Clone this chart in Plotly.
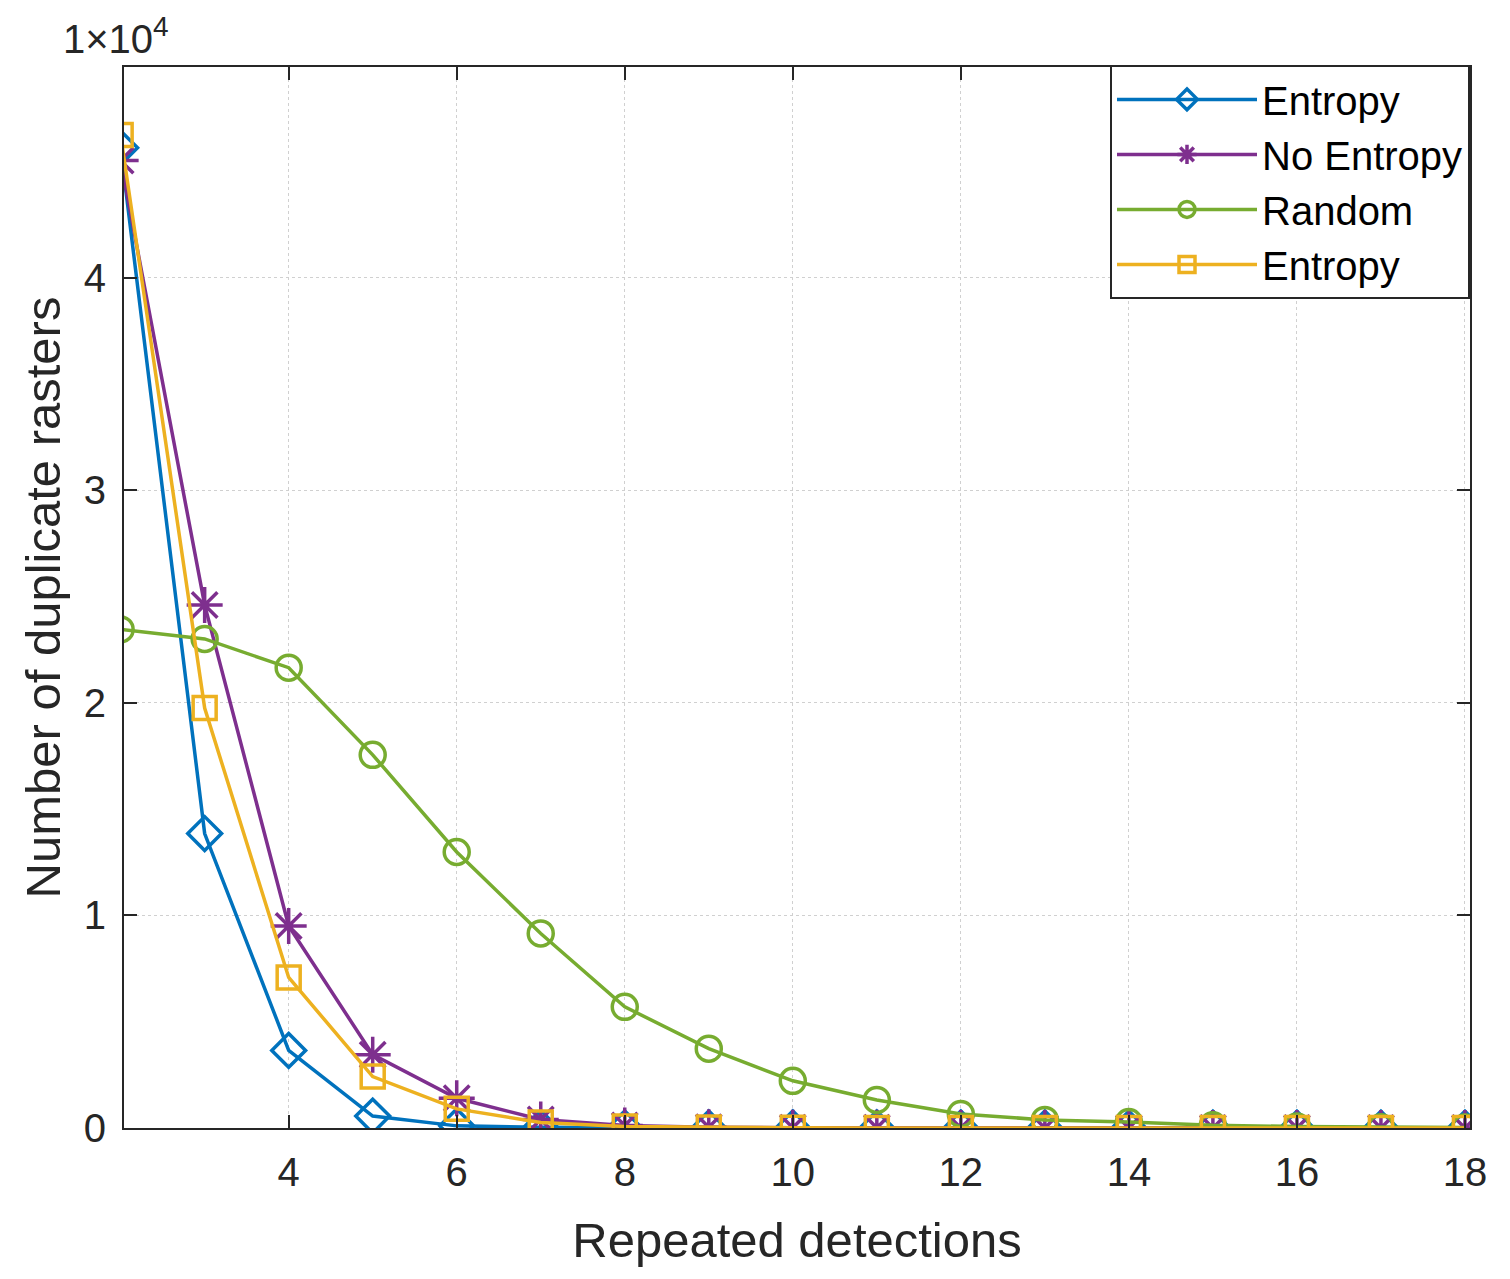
import plotly.graph_objects as go

# repeated detections (x axis)
detections = list(range(2, 19))

# number of duplicate rasters
entropy = [46100, 13850, 3650, 560, 100, 30, 10, 5, 3, 2, 1, 1, 0, 0, 0, 0, 0]
no_entropy = [45500, 24600, 9500, 3450, 1400, 400, 120, 40, 15, 8, 4, 2, 1, 1, 0, 0, 0]
random_sel = [23450, 23000, 21650, 17550, 12980, 9150, 5700, 3730, 2220, 1320, 660, 380, 280, 130, 70, 30, 20]
entropy_sq = [46700, 19750, 7080, 2420, 900, 260, 70, 20, 8, 4, 2, 1, 1, 0, 0, 0, 0]

y_ticks = [0, 10000, 20000, 30000, 40000]
y_ticktext = ["0", "1", "2", "3", "4"]
x_ticks = [4, 6, 8, 10, 12, 14, 16, 18]

series = [
    ("Entropy", entropy, "#0072BD", "diamond-open", 26),
    ("No Entropy", no_entropy, "#7E2F8E", "asterisk-open", 30),
    ("Random", random_sel, "#77AC30", "circle-open", 25),
    ("Entropy", entropy_sq, "#EDB120", "square-open", 23),
]

fig = go.Figure()
for name, vals, col, sym, sz in series:
    fig.add_trace(go.Scatter(
        x=detections, y=vals, name=name, mode="lines+markers",
        line=dict(color=col, width=3.5),
        marker=dict(symbol=sym, size=sz, color=col, line=dict(color=col, width=3.5)),
    ))

axis_common = dict(
    showline=True, linecolor="#262626", linewidth=2, mirror="ticks",
    ticks="inside", ticklen=13, tickwidth=2, tickcolor="#262626",
    showgrid=True, gridcolor="#d0d0d0", griddash="dot", gridwidth=1,
    zeroline=False, tickfont=dict(size=40, color="#262626"),
)

fig.update_xaxes(
    range=[2.04, 18.06], tickvals=x_ticks, ticklabelstandoff=8,
    title=dict(text="Repeated detections", font=dict(size=49, color="#262626"), standoff=30),
    **axis_common,
)
fig.update_yaxes(
    range=[0, 49900], tickvals=y_ticks, ticktext=y_ticktext, ticklabelstandoff=8,
    title=dict(text="Number of duplicate rasters", font=dict(size=49, color="#262626"), standoff=8),
    **axis_common,
)

fig.add_annotation(
    text="1×10<sup>4</sup>", xref="paper", yref="paper", x=-0.047, y=1.0,
    xanchor="left", yanchor="bottom", showarrow=False, yshift=4,
    font=dict(size=40, color="#262626"),
)

fig.update_layout(
    width=1494, height=1263,
    margin=dict(l=116, r=32, t=59, b=143),
    plot_bgcolor="white", paper_bgcolor="white",
    font=dict(family="Liberation Sans, Arial, sans-serif", color="#262626"),
    legend=dict(
        x=1.0, y=1.002, xanchor="right", yanchor="top",
        bgcolor="white", bordercolor="#262626", borderwidth=2,
        font=dict(size=40, color="black"), itemwidth=140, tracegroupgap=0,
    ),
)

fig.write_html("out.html")
